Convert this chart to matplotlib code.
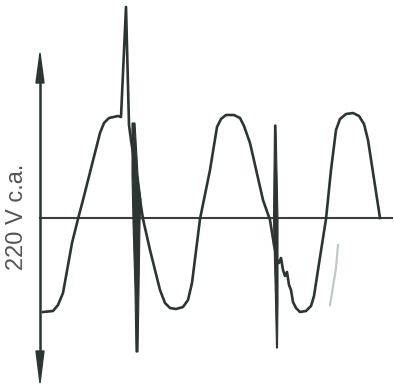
import matplotlib
matplotlib.use("Agg")
import matplotlib.pyplot as plt
from matplotlib.patches import Polygon

# main waveform (arbitrary units: time, voltage)
t = [3, 13, 18, 23, 32, 38, 43, 60, 64, 69, 78, 81, 86, 89,
     91, 97, 103, 110, 120, 125, 130, 136, 143, 148, 152, 160,
     170, 177, 181, 186, 194, 200, 204, 210, 223, 230, 234, 237,
     239, 241, 243, 245, 247, 249, 251, 253, 256, 260, 266, 271,
     274, 278, 286, 291, 296, 300, 306, 313, 319, 324, 328, 340]
v = [-94, -93, -87, -75, -25, -1, 18, 85, 95, 100, 102, 101, 211, 93,
     78, 38, -1, -32, -72, -85, -90, -91, -89, -82, -65, -1,
     48, 91, 99, 103, 103, 100, 92, 75, 18, -2, -27, -42,
     -45, -40, -52, -58, -54, -67, -72, -84, -90, -94, -93, -88,
     -78, -52, -1, 48, 88, 99, 104, 105, 102, 94, 78, 0]

# switching transients (outline of the dark traces)
spike1_t = [92, 95, 98, 101, 100, 99, 98, 96, 95, 93, 92]
spike1_v = [95, 95, 43, 18, -4, -72, -134, -134, -72, -4, 43]
spike2_t = [234.5, 236, 238, 238, 237.5, 236.5, 235.5, 233.5]
spike2_v = [93, 93, -2, -82, -130, -130, -82, -2]
faint_t = [298, 296, 292, 290]
faint_v = [-27, -50, -75, -87]

ylabel = "220 V c.a."
ink = "#2b3532"

fig = plt.figure(figsize=(3.94, 3.87), dpi=100)
ax = fig.add_axes([0, 0, 1, 1])
ax.set_xlim(-40, 354)
ax.set_ylim(-169, 218)
ax.axis("off")

# axes drawn by hand
ax.plot([0, 352], [0, 0], color="#3d3d3d", lw=1.5, zorder=1)
ax.plot([0, 0], [-135, 135], color=ink, lw=1.8, zorder=1)
ax.add_patch(Polygon([[-4, 135], [0, 165], [4, 135]], closed=True,
                     color=ink, zorder=2))
ax.add_patch(Polygon([[-4, -133], [0, -165], [4, -133]], closed=True,
                     color=ink, zorder=2))

ax.plot(t, v, color=ink, lw=1.9, solid_joinstyle="round", zorder=3)
ax.add_patch(Polygon(list(zip(spike1_t, spike1_v)), closed=True,
                     color=ink, lw=0.8, zorder=3))
ax.add_patch(Polygon(list(zip(spike2_t, spike2_v)), closed=True,
                     color=ink, lw=0.8, zorder=3))
ax.plot(faint_t, faint_v, color="#bfcac6", lw=1.6, zorder=2)

ax.text(-23, 1, ylabel, rotation=90, ha="center", va="center",
        fontsize=17, family="Liberation Sans", color="#555555")

fig.savefig("out.png", dpi=100, facecolor="white")
